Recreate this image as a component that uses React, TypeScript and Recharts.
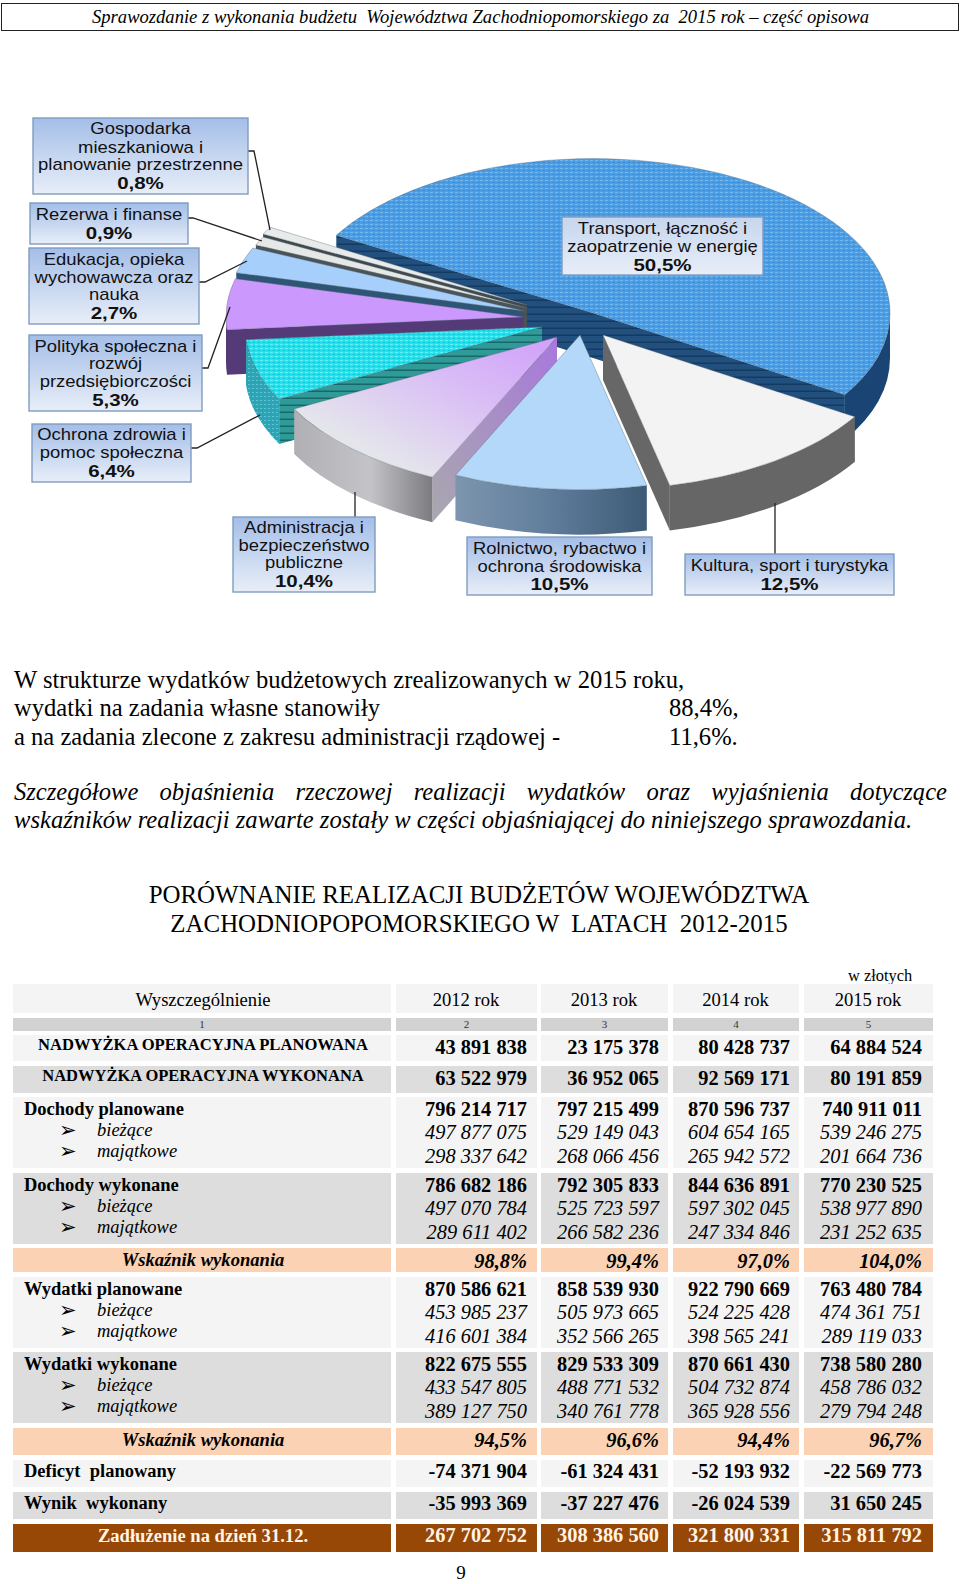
import React from 'react';
import { PieChart, Pie } from 'recharts';

// shares of spending in 2015, in drawing order (back to front)
const shareNames = [
  ['Transport, łączność i', 'zaopatrzenie w energię'],
  ['Gospodarka', 'mieszkaniowa i', 'planowanie przestrzenne'],
  ['Rezerwa i finanse'],
  ['Edukacja, opieka', 'wychowawcza oraz', 'nauka'],
  ['Polityka społeczna i', 'rozwój', 'przedsiębiorczości'],
  ['Ochrona zdrowia i', 'pomoc społeczna'],
  ['Administracja i', 'bezpieczeństwo', 'publiczne'],
  ['Rolnictwo, rybactwo i', 'ochrona środowiska'],
  ['Kultura, sport i turystyka'],
];
const shareValues = [50.5, 0.8, 0.9, 2.7, 5.3, 6.4, 10.4, 10.5, 12.5];

const years = ['2012 rok', '2013 rok', '2014 rok', '2015 rok'];
const nadwyzkaPlan = ['43 891 838', '23 175 378', '80 428 737', '64 884 524'];
const nadwyzkaWyk = ['63 522 979', '36 952 065', '92 569 171', '80 191 859'];
const dochodyPlan = [
  ['796 214 717', '797 215 499', '870 596 737', '740 911 011'],
  ['497 877 075', '529 149 043', '604 654 165', '539 246 275'],
  ['298 337 642', '268 066 456', '265 942 572', '201 664 736'],
];
const dochodyWyk = [
  ['786 682 186', '792 305 833', '844 636 891', '770 230 525'],
  ['497 070 784', '525 723 597', '597 302 045', '538 977 890'],
  ['289 611 402', '266 582 236', '247 334 846', '231 252 635'],
];
const wskaznikDochody = ['98,8%', '99,4%', '97,0%', '104,0%'];
const wydatkiPlan = [
  ['870 586 621', '858 539 930', '922 790 669', '763 480 784'],
  ['453 985 237', '505 973 665', '524 225 428', '474 361 751'],
  ['416 601 384', '352 566 265', '398 565 241', '289 119 033'],
];
const wydatkiWyk = [
  ['822 675 555', '829 533 309', '870 661 430', '738 580 280'],
  ['433 547 805', '488 771 532', '504 732 874', '458 786 032'],
  ['389 127 750', '340 761 778', '365 928 556', '279 794 248'],
];
const wskaznikWydatki = ['94,5%', '96,6%', '94,4%', '96,7%'];
const deficyt = ['-74 371 904', '-61 324 431', '-52 193 932', '-22 569 773'];
const wynik = ['-35 993 369', '-37 227 476', '-26 024 539', '31 650 245'];
const zadluzenie = ['267 702 752', '308 386 560', '321 800 331', '315 811 792'];

// look of each slice: screen offset from the pie centre, then the fills
const sliceStyles = [
  { dx: 3, dy: -1, top: 'url(#dotBlue)', side: 'url(#stripeNavy)', rim: '#1a4473' },
  { dx: -63, dy: -9, top: '#e9ebea', side: '#3f4a4c', rim: '#3f4a4c' },
  { dx: -63, dy: -6, top: '#e6e8e8', side: '#4a5456', rim: '#4a5456' },
  { dx: -66, dy: -3, top: '#a6cffb', side: '#2f5576', rim: '#2f5576' },
  { dx: -67, dy: 3, top: '#cb99fd', side: '#553a78', rim: '#553a78' },
  { dx: -48, dy: 13, top: 'url(#dotCyan)', side: 'url(#stripeTeal)', rim: 'url(#dotTeal)' },
  { dx: -33, dy: 23, top: 'url(#gradAdmTop)', side: 'url(#gradAdmSide)', rim: 'url(#gradAdmRim)' },
  { dx: -10, dy: 21, top: '#b4d8f9', side: '#4f6e8c', rim: 'url(#gradRolRim)' },
  { dx: 13, dy: 21, top: '#f3f3f3', side: '#676767', rim: '#666666' },
];

// callout boxes around the pie, with their leader lines
const calloutStyles = [
  { x: 562, y: 217, w: 201, h: 58, lines: [228, 246, 265], leader: null },
  { x: 33, y: 118, w: 215, h: 76, lines: [128, 147, 164, 183], leader: [[248, 151], [254, 151], [270, 230]] },
  { x: 30, y: 203, w: 158, h: 41, lines: [214, 233], leader: [[188, 218], [193, 218], [262, 241]] },
  { x: 29, y: 248, w: 170, h: 76, lines: [259, 277, 294, 313], leader: [[199, 282], [205, 282], [247, 261]] },
  { x: 29, y: 335, w: 173, h: 76, lines: [346, 363, 381, 400], leader: [[202, 368], [208, 368], [230, 307]] },
  { x: 32, y: 424, w: 159, h: 58, lines: [434, 452, 471], leader: [[191, 448], [197, 448], [260, 415]] },
  { x: 233, y: 517, w: 142, h: 75, lines: [527, 545, 562, 581], leader: [[355, 492], [355, 517]] },
  { x: 467, y: 537, w: 185, h: 58, lines: [548, 566, 584], leader: null },
  { x: 685, y: 554, w: 209, h: 41, lines: [565, 584], leader: [[775, 503], [775, 554]] },
];

const SQUASH = 0.52;
const DEPTH = 45;
const RAD = Math.PI / 180;

const Slice3D = (props: any) => {
  const { cx, cy, outerRadius, startAngle, endAngle, index } = props;
  const st = sliceStyles[index];
  const ox = cx + st.dx;
  const oy = cy + st.dy;
  const ry = outerRadius * SQUASH;
  const pt = (a: number, d = 0) => [ox + outerRadius * Math.cos(a * RAD), oy - ry * Math.sin(a * RAD) + d];
  const a0 = Math.min(startAngle, endAngle);
  const a1 = Math.max(startAngle, endAngle);
  const [sx, sy] = pt(a0);
  const [ex, ey] = pt(a1);
  const large = a1 - a0 > 180 ? 1 : 0;
  const top = `M${ox},${oy} L${sx},${sy} A${outerRadius},${ry} 0 ${large} 0 ${ex},${ey} Z`;

  // outer wall only where the rim faces the viewer
  const walls: string[] = [];
  [[-180, 0], [180, 360]].forEach(([lo, hi]) => {
    const p = Math.max(a0, lo);
    const q = Math.min(a1, hi);
    if (q <= p) return;
    const [x0, y0] = pt(p);
    const [x1, y1] = pt(q);
    walls.push(
      `M${x0},${y0} A${outerRadius},${ry} 0 0 0 ${x1},${y1} L${x1},${y1 + DEPTH} A${outerRadius},${ry} 0 0 1 ${x0},${y0 + DEPTH} Z`,
    );
  });

  const cut = (x: number, y: number) =>
    `M${ox},${oy} L${x},${y} L${x},${y + DEPTH} L${ox},${oy + DEPTH} Z`;

  return (
    <g>
      {Math.cos(a0 * RAD) > 0 && <path d={cut(sx, sy)} fill={st.side} />}
      {Math.cos(a1 * RAD) < 0 && <path d={cut(ex, ey)} fill={st.side} />}
      {walls.map((d) => (
        <path key={d} d={d} fill={st.rim} />
      ))}
      <path d={top} fill={st.top} stroke="#5a6a78" strokeWidth={0.4} />
    </g>
  );
};

const Callout = (props: any) => {
  const { index } = props;
  const c = calloutStyles[index];
  const names = shareNames[index];
  const font = { fontFamily: '"Liberation Sans", Arial, sans-serif', fontSize: 16.4, fill: '#111' };
  const cxText = c.x + c.w / 2;
  return (
    <g>
      {c.leader && (
        <polyline points={c.leader.join(' ')} fill="none" stroke="#222" strokeWidth={1.3} />
      )}
      <rect
        x={c.x}
        y={c.y}
        width={c.w}
        height={c.h}
        fill={index === 0 ? 'url(#gradBoxLight)' : 'url(#gradBox)'}
        stroke="#7f9cc0"
        strokeWidth={1.4}
      />
      {names.map((n, i) => (
        <text key={n} transform={`translate(${cxText},${c.lines[i] + 6}) scale(1.125,1)`} textAnchor="middle" {...font}>
          {n}
        </text>
      ))}
      <text
        transform={`translate(${cxText},${c.lines[names.length] + 6}) scale(1.25,1)`}
        textAnchor="middle"
        {...font}
        fontWeight="bold"
      >
        {shareValues[index].toFixed(1).replace('.', ',')}%
      </text>
    </g>
  );
};

const SpendingPie = () => {
  const data = shareValues.map((value, i) => ({ name: shareNames[i].join(' '), value }));
  return (
    <div style={{ position: 'absolute', left: 0, top: 0 }}>
      <PieChart width={960} height={620} margin={{ top: 0, right: 0, bottom: 0, left: 0 }}>
        <defs>
          <pattern id="dotBlue" width="5" height="4" patternUnits="userSpaceOnUse">
            <rect width="5" height="4" fill="#4a9ee6" />
            <rect x="0" y="0" width="3" height="1" fill="#75b8f0" />
            <rect x="2.5" y="2" width="2.5" height="1" fill="#3d8ed8" />
          </pattern>
          <pattern id="dotCyan" width="5" height="4" patternUnits="userSpaceOnUse">
            <rect width="5" height="4" fill="#1fe3ef" />
            <rect x="0" y="0" width="3" height="1" fill="#62f0f6" />
            <rect x="2.5" y="2" width="2.5" height="1" fill="#12c8d8" />
          </pattern>
          <pattern id="dotTeal" width="4" height="4" patternUnits="userSpaceOnUse">
            <rect width="4" height="4" fill="#2ea3b5" />
            <rect x="0" y="0" width="2" height="1" fill="#5cc6d2" />
          </pattern>
          <pattern id="stripeNavy" width="8" height="7" patternUnits="userSpaceOnUse">
            <rect width="8" height="7" fill="#21507f" />
            <rect y="5.5" width="8" height="1.5" fill="#143a60" />
          </pattern>
          <pattern id="stripeTeal" width="8" height="7" patternUnits="userSpaceOnUse">
            <rect width="8" height="7" fill="#2f9a98" />
            <rect y="5.5" width="8" height="1.5" fill="#16686a" />
          </pattern>
          <linearGradient id="gradBox" x1="0" y1="0" x2="0" y2="1">
            <stop offset="0%" stopColor="#a4bee8" />
            <stop offset="100%" stopColor="#e8eef8" />
          </linearGradient>
          <linearGradient id="gradBoxLight" x1="0" y1="0" x2="0" y2="1">
            <stop offset="0%" stopColor="#c6d6ee" />
            <stop offset="100%" stopColor="#e8eef8" />
          </linearGradient>
          <linearGradient id="gradAdmTop" x1="1" y1="0" x2="0" y2="1">
            <stop offset="0%" stopColor="#d09ffa" />
            <stop offset="35%" stopColor="#d9bcf6" />
            <stop offset="75%" stopColor="#e4e4ec" />
            <stop offset="100%" stopColor="#e6e8ea" />
          </linearGradient>
          <linearGradient id="gradAdmSide" x1="1" y1="0" x2="0" y2="1">
            <stop offset="0%" stopColor="#a878dc" />
            <stop offset="100%" stopColor="#a8a8ae" />
          </linearGradient>
          <linearGradient id="gradAdmRim" x1="0" y1="0" x2="1" y2="0">
            <stop offset="0%" stopColor="#b0b0b4" />
            <stop offset="55%" stopColor="#c4c4c8" />
            <stop offset="100%" stopColor="#7c7c80" />
          </linearGradient>
          <linearGradient id="gradRolRim" x1="0" y1="0" x2="1" y2="0">
            <stop offset="0%" stopColor="#7d95ae" />
            <stop offset="50%" stopColor="#5f7d9b" />
            <stop offset="100%" stopColor="#3d5a75" />
          </linearGradient>
        </defs>
        <Pie
          data={data}
          dataKey="value"
          nameKey="name"
          cx={590}
          cy={314}
          innerRadius={0}
          outerRadius={297}
          startAngle={-32}
          endAngle={328}
          stroke="none"
          isAnimationActive={false}
          shape={Slice3D}
          label={Callout}
          labelLine={false}
        />
      </PieChart>
    </div>
  );
};

const SERIF = '"Liberation Serif", "Times New Roman", serif';

const Txt = ({ x, y, right, center, size, bold, italic, color, children, font }: any) => (
  <div
    style={{
      position: 'absolute',
      top: y - size * 0.575,
      height: size * 1.15,
      lineHeight: `${size * 1.15}px`,
      left: x,
      right: right !== undefined ? 960 - right : center !== undefined ? 960 - center * 2 : undefined,
      width: center !== undefined ? center * 2 : undefined,
      textAlign: right !== undefined ? 'right' : center !== undefined ? 'center' : 'left',
      fontFamily: font || SERIF,
      fontSize: size,
      fontWeight: bold ? 'bold' : 'normal',
      fontStyle: italic ? 'italic' : 'normal',
      color: color || '#000',
      whiteSpace: 'pre',
    }}
  >
    {children}
  </div>
);

// table geometry
const COLS = [
  [13, 391],
  [396, 537],
  [541, 668],
  [673, 799],
  [804, 933],
];
const NUM_RIGHT = [527, 659, 790, 922];
const LIGHT = '#f4f4f4';
const GREY = '#dddddd';
const PEACH = '#fbd3b4';
const BROWN = '#984806';

const Band = ({ top, bottom, fill }: any) => (
  <>
    {COLS.map(([l, r]) => (
      <div key={l} style={{ position: 'absolute', left: l, width: r - l, top, height: bottom - top, background: fill }} />
    ))}
  </>
);

const Nums = ({ y, values, bold, italic, color }: any) => (
  <>
    {values.map((v: string, i: number) => (
      <Txt key={i} right={NUM_RIGHT[i]} y={y} size={20.4} bold={bold} italic={italic} color={color}>
        {v}
      </Txt>
    ))}
  </>
);

const Block = ({ top, title, rows, fill }: any) => (
  <>
    <Band top={top} bottom={top + 71} fill={fill} />
    <Txt x={24} y={top + 13} size={18.5} bold>
      {title}
    </Txt>
    {['bieżące', 'majątkowe'].map((t, i) => (
      <React.Fragment key={t}>
        <Txt x={59} y={top + 33 + i * 21} size={21} font="DejaVu Sans">
          ➢
        </Txt>
        <Txt x={97} y={top + 33.5 + i * 21} size={18.5} italic>
          {t}
        </Txt>
      </React.Fragment>
    ))}
    <Nums y={top + 13} values={rows[0]} bold />
    <Nums y={top + 36} values={rows[1]} italic />
    <Nums y={top + 60} values={rows[2]} italic />
  </>
);

const BudgetTable = () => (
  <>
    <Txt x={848} y={976} size={16.4}>w złotych</Txt>
    <Band top={984} bottom={1013} fill={LIGHT} />
    <Txt center={203} y={1000} size={18.6}>Wyszczególnienie</Txt>
    {years.map((t, i) => (
      <Txt key={t} center={(COLS[i + 1][0] + COLS[i + 1][1]) / 2 - 0.5} y={1000} size={18.6}>
        {t}
      </Txt>
    ))}
    <Band top={1018} bottom={1031} fill="#d2d2d2" />
    {COLS.map(([l, r], i) => (
      <Txt key={l} center={(l + r) / 2} y={1024} size={11} color="#333">
        {i + 1}
      </Txt>
    ))}
    <Band top={1035} bottom={1061} fill={LIGHT} />
    <Txt center={203} y={1045} size={16.6} bold>NADWYŻKA OPERACYJNA PLANOWANA</Txt>
    <Nums y={1048} values={nadwyzkaPlan} bold />
    <Band top={1066} bottom={1093} fill={GREY} />
    <Txt center={203} y={1076} size={16.5} bold>NADWYŻKA OPERACYJNA WYKONANA</Txt>
    <Nums y={1079} values={nadwyzkaWyk} bold />
    <Block top={1097} title="Dochody planowane" rows={dochodyPlan} fill={LIGHT} />
    <Block top={1173} title="Dochody wykonane" rows={dochodyWyk} fill={GREY} />
    <Band top={1248} bottom={1272} fill={PEACH} />
    <Txt center={203} y={1260} size={18.6} bold italic>Wskaźnik wykonania</Txt>
    <Nums y={1262} values={wskaznikDochody} bold italic />
    <Block top={1277} title="Wydatki planowane" rows={wydatkiPlan} fill={LIGHT} />
    <Block top={1352} title="Wydatki wykonane" rows={wydatkiWyk} fill={GREY} />
    <Band top={1428} bottom={1455} fill={PEACH} />
    <Txt center={203} y={1440} size={18.6} bold italic>Wskaźnik wykonania</Txt>
    <Nums y={1441} values={wskaznikWydatki} bold italic />
    <Band top={1460} bottom={1487} fill={LIGHT} />
    <Txt x={24} y={1472} size={18.5} bold>Deficyt  planowany</Txt>
    <Nums y={1472} values={deficyt} bold />
    <Band top={1492} bottom={1519} fill={GREY} />
    <Txt x={24} y={1504} size={18.5} bold>Wynik  wykonany</Txt>
    <Nums y={1504} values={wynik} bold />
    <Band top={1524} bottom={1552} fill={BROWN} />
    <Txt center={203} y={1536} size={18.6} bold color="#fff4e6">Zadłużenie na dzień 31.12.</Txt>
    <Nums y={1536} values={zadluzenie} bold color="#fff4e6" />
  </>
);

export default function App() {
  return (
    <div style={{ position: 'absolute', left: 0, top: 0, width: 960, height: 1584, background: '#fff', overflow: 'hidden' }}>
      <div style={{ position: 'absolute', left: 1, top: 3, width: 956, height: 26, border: '1.5px solid #222' }} />
      <Txt x={92} y={17} size={18.6} italic>
        Sprawozdanie z wykonania budżetu  Województwa Zachodniopomorskiego za  2015 rok – część opisowa
      </Txt>
      <SpendingPie />
      <Txt x={14} y={680} size={24.6}>W strukturze wydatków budżetowych zrealizowanych w 2015 roku,</Txt>
      <Txt x={14} y={708} size={24.6}>wydatki na zadania własne stanowiły</Txt>
      <Txt x={669} y={708} size={24.6}>88,4%,</Txt>
      <Txt x={14} y={737} size={24.6}>a na zadania zlecone z zakresu administracji rządowej -</Txt>
      <Txt x={669} y={737} size={24.6}>11,6%.</Txt>
      <div
        style={{
          position: 'absolute', left: 14, top: 792 - 16, width: 933, lineHeight: '32px', fontFamily: SERIF,
          fontSize: 24.6, fontStyle: 'italic', textAlign: 'justify', textAlignLast: 'justify',
        }}
      >
        Szczegółowe objaśnienia rzeczowej realizacji wydatków oraz wyjaśnienia dotyczące
      </div>
      <Txt x={14} y={820} size={24.6} italic>
        wskaźników realizacji zawarte zostały w części objaśniającej do niniejszego sprawozdania.
      </Txt>
      <Txt center={479} y={895} size={24.9}>PORÓWNANIE REALIZACJI BUDŻETÓW WOJEWÓDZTWA</Txt>
      <Txt center={479} y={924} size={24.9}>ZACHODNIOPOPOMORSKIEGO W  LATACH  2012-2015</Txt>
      <BudgetTable />
      <Txt center={461} y={1573} size={19}>9</Txt>
    </div>
  );
}
